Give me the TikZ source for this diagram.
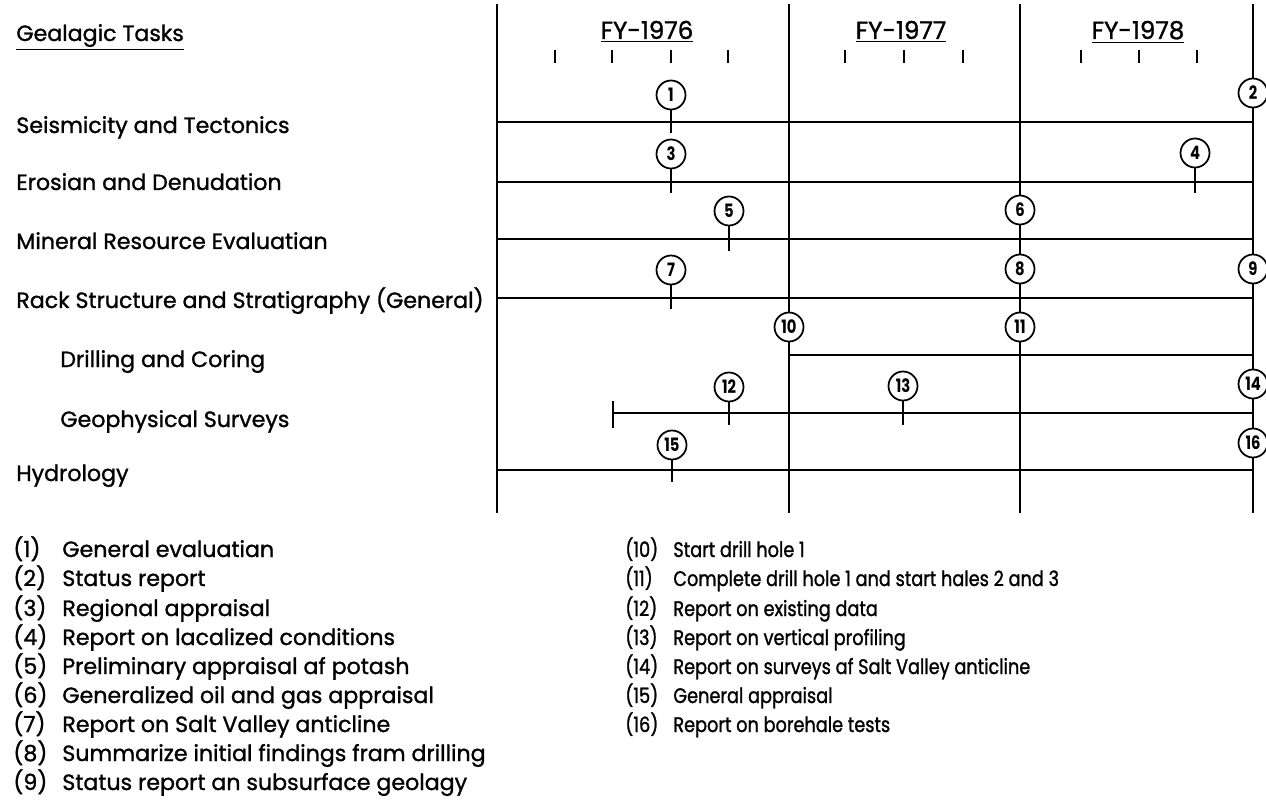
\documentclass[tikz,border=0pt]{standalone}
\usepackage{fontspec}
\setmainfont{Poppins}[FakeBold=1.2]
\newfontfamily\narrowfont{Poppins}[FakeStretch=0.84, FakeBold=1.2]
\newfontfamily\digitfont{Poppins}[FakeStretch=0.8]
\usepackage{tikz}

\newcommand{\tasksize}{\fontsize{12.6}{14}\selectfont}
\newcommand{\notesize}{\narrowfont\fontsize{12}{14}\selectfont}
\newcommand{\yearsize}{\fontsize{14}{16}\selectfont}
\newcommand{\evtsize}{\digitfont\fontsize{10.5}{11}\selectfont\bfseries}

\begin{document}
\begin{tikzpicture}[x=0.02cm, y=-0.02cm,
        task/.style={anchor=base west, inner sep=0pt, font=\tasksize},
        note/.style={anchor=base west, inner sep=0pt, font=\notesize},
        year/.style={anchor=base, inner sep=0pt, font=\yearsize},
        evt/.style={circle, draw, line width=1pt, fill=white, inner sep=0pt, minimum size=0.58cm, font=\evtsize},
        bar/.style={line width=1.5pt},
        yr/.style={line width=1.1pt},
        qtick/.style={line width=1.1pt}]
    \useasboundingbox (0,0) rectangle (1266,803);

    % intestazione
    \node[task] (head) at (16,41) {\underline{Gealagic Tasks}};
    \node[year] (fy76) at (647,39) {\underline{FY-1976}};
    \node[year] (fy77) at (901,39) {\underline{FY-1977}};
    \node[year] (fy78) at (1138,39) {\underline{FY-1978}};

    % trimestri
    \draw[qtick] (555,50) -- (555,63);
    \draw[qtick] (612,50) -- (612,63);
    \draw[qtick] (671,50) -- (671,63);
    \draw[qtick] (728,50) -- (728,63);
    \draw[qtick] (845,50) -- (845,63);
    \draw[qtick] (904,50) -- (904,63);
    \draw[qtick] (963,50) -- (963,63);
    \draw[qtick] (1081,50) -- (1081,63);
    \draw[qtick] (1139,50) -- (1139,63);
    \draw[qtick] (1197,50) -- (1197,63);

    % limiti degli anni
    \coordinate (v0t) at (497,4);  \coordinate (v0b) at (497,513);
    \coordinate (v1t) at (789,4);  \coordinate (v1b) at (789,513);
    \coordinate (v2t) at (1020,4); \coordinate (v2b) at (1020,513);
    \coordinate (v3t) at (1253,4); \coordinate (v3b) at (1253,513);
    \path
    (v0t) edge[yr] (v0b)
    (v1t) edge[yr] (v1b)
    (v2t) edge[yr] (v2b)
    (v3t) edge[yr] (v3b);

    % compiti
    \node[task] (seis) at (16,133) {Seismicity and Tectonics};
    \node[task] (eros) at (16,190) {Erosian and Denudation};
    \node[task] (minr) at (16,249) {Mineral Resource Evaluatian};
    \node[task] (rack) at (16,308) {Rack Structure and Stratigraphy (General)};
    \node[task] (dril) at (60,367) {Drilling and Coring};
    \node[task] (geop) at (60,427) {Geophysical Surveys};
    \node[task] (hydr) at (16,481) {Hydrology};

    \coordinate (seisA) at (497,122);  \coordinate (seisB) at (1253,122);
    \coordinate (erosA) at (497,182);  \coordinate (erosB) at (1253,182);
    \coordinate (minrA) at (497,239);  \coordinate (minrB) at (1253,239);
    \coordinate (rackA) at (497,298);  \coordinate (rackB) at (1253,298);
    \coordinate (drilA) at (789,355);  \coordinate (drilB) at (1253,355);
    \coordinate (geopA) at (613,413);  \coordinate (geopB) at (1253,413);
    \coordinate (hydrA) at (497,470);  \coordinate (hydrB) at (1253,470);
    \coordinate (geopU) at (613,401);  \coordinate (geopD) at (613,428);

    \path
    (seisA) edge[bar] (seisB)
    (erosA) edge[bar] (erosB)
    (minrA) edge[bar] (minrB)
    (rackA) edge[bar] (rackB)
    (drilA) edge[bar] (drilB)
    (geopA) edge[bar] (geopB)
    (geopU) edge[qtick] (geopD)
    (hydrA) edge[bar] (hydrB);

    % eventi
    \node[evt] (e1) at (671,95) {1};
    \node[evt] (e2) at (1253,93) {2};
    \node[evt] (e3) at (671,154) {3};
    \node[evt] (e4) at (1195,153) {4};
    \node[evt] (e5) at (729,211) {5};
    \node[evt] (e6) at (1020,210) {6};
    \node[evt] (e7) at (671,270) {7};
    \node[evt] (e8) at (1020,269) {8};
    \node[evt] (e9) at (1253,269) {9};
    \node[evt] (e10) at (789,327) {10};
    \node[evt] (e11) at (1020,327) {11};
    \node[evt] (e12) at (729,387) {12};
    \node[evt] (e13) at (903,386) {13};
    \node[evt] (e14) at (1253,384) {14};
    \node[evt] (e15) at (672,445) {15};
    \node[evt] (e16) at (1253,443) {16};

    \coordinate (t1) at (671,133);
    \coordinate (t3) at (671,193);
    \coordinate (t4) at (1195,193);
    \coordinate (t5) at (729,251);
    \coordinate (t7) at (671,309);
    \coordinate (t12) at (729,425);
    \coordinate (t13) at (903,425);
    \coordinate (t15) at (672,482);

    \path
    (e1) edge[qtick] (t1)
    (e3) edge[qtick] (t3)
    (e4) edge[qtick] (t4)
    (e5) edge[qtick] (t5)
    (e7) edge[qtick] (t7)
    (e12) edge[qtick] (t12)
    (e13) edge[qtick] (t13)
    (e15) edge[qtick] (t15);

    % legenda
    \node[task] (n1) at (13,557) {(1)};  \node[task] (l1) at (62,557) {General evaluatian};
    \node[task] (n2) at (13,586) {(2)};  \node[task] (l2) at (62,586) {Status report};
    \node[task] (n3) at (13,616) {(3)};  \node[task] (l3) at (62,616) {Regional appraisal};
    \node[task] (n4) at (13,645) {(4)};  \node[task] (l4) at (62,645) {Report on lacalized conditions};
    \node[task] (n5) at (13,674) {(5)};  \node[task] (l5) at (62,674) {Preliminary appraisal af potash};
    \node[task] (n6) at (13,703) {(6)};  \node[task] (l6) at (62,703) {Generalized oil and gas appraisal};
    \node[task] (n7) at (13,732) {(7)};  \node[task] (l7) at (62,732) {Report on Salt Valley anticline};
    \node[task] (n8) at (13,761) {(8)};  \node[task] (l8) at (62,761) {Summarize initial findings fram drilling};
    \node[task] (n9) at (13,790) {(9)};  \node[task] (l9) at (62,790) {Status report an subsurface geolagy};

    \node[note] (n10) at (625,557) {(10)}; \node[note] (l10) at (673,557) {Start drill hole 1};
    \node[note] (n11) at (625,586) {(11)}; \node[note] (l11) at (673,586) {Complete drill hole 1 and start hales 2 and 3};
    \node[note] (n12) at (625,616) {(12)}; \node[note] (l12) at (673,616) {Report on existing data};
    \node[note] (n13) at (625,645) {(13)}; \node[note] (l13) at (673,645) {Report on vertical profiling};
    \node[note] (n14) at (625,674) {(14)}; \node[note] (l14) at (673,674) {Report on surveys af Salt Valley anticline};
    \node[note] (n15) at (625,703) {(15)}; \node[note] (l15) at (673,703) {General appraisal};
    \node[note] (n16) at (625,732) {(16)}; \node[note] (l16) at (673,732) {Report on borehale tests};
\end{tikzpicture}
\end{document}
